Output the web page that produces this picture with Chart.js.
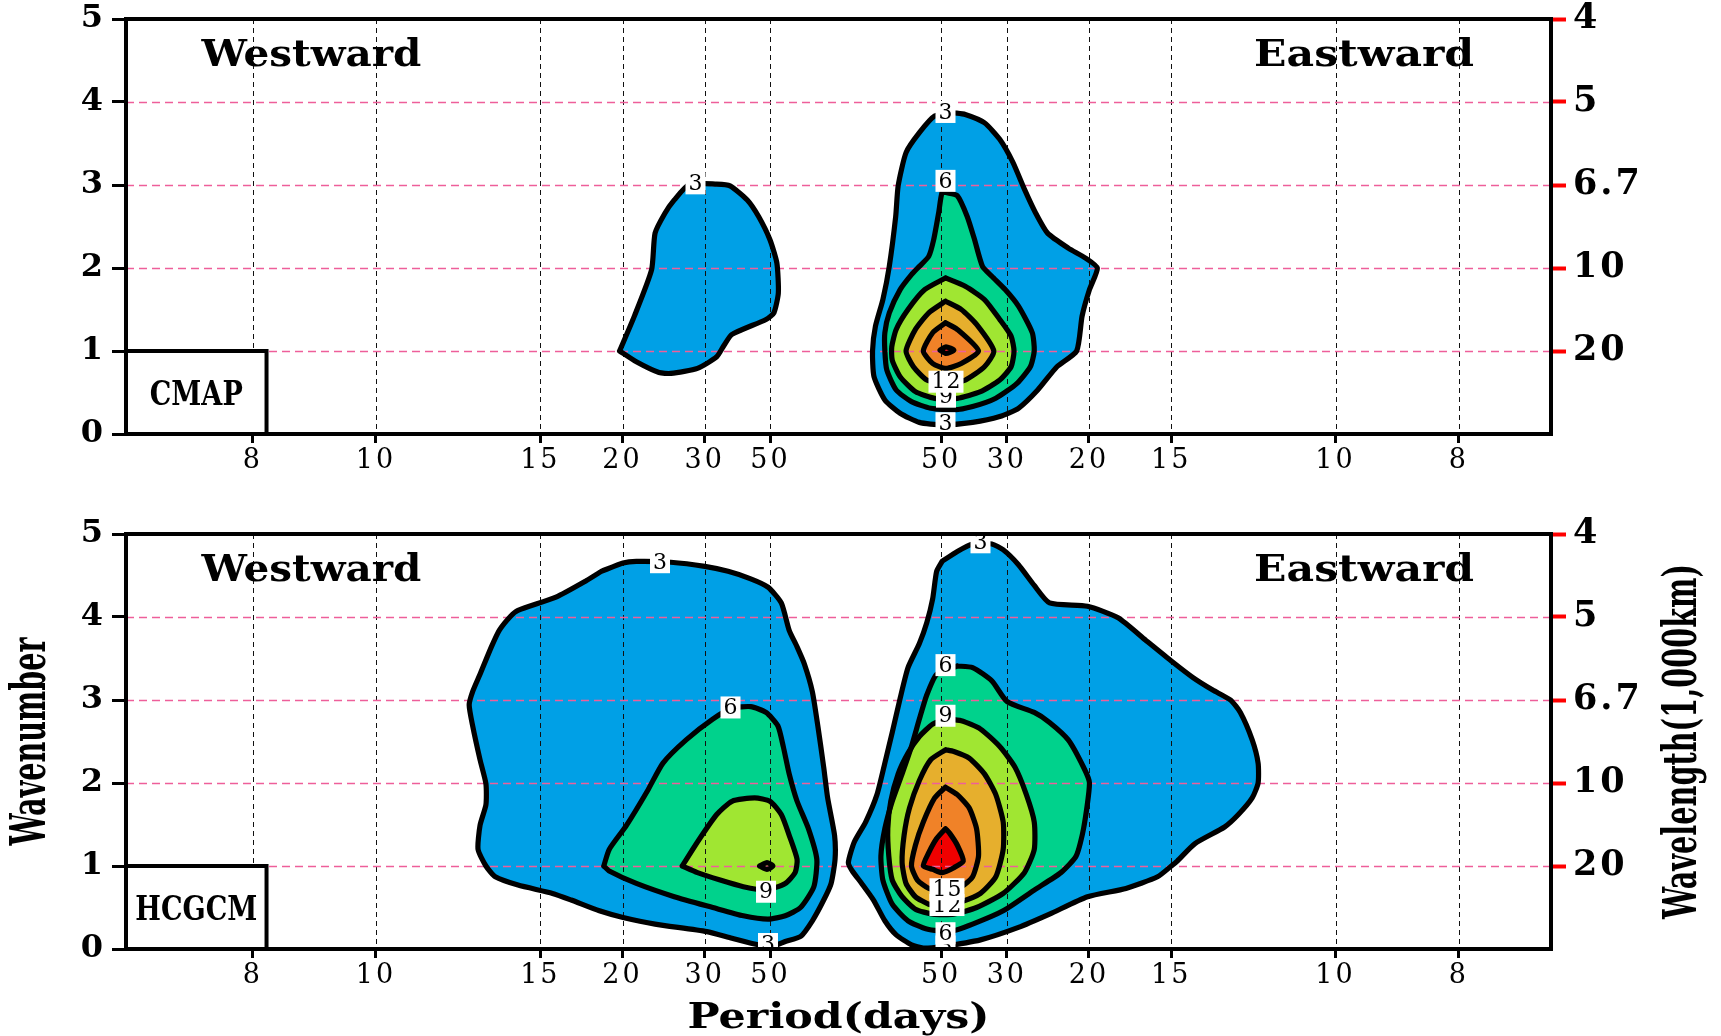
<!DOCTYPE html>
<html>
<head>
<meta charset="utf-8">
<title>Wavenumber-frequency spectra: CMAP vs HCGCM</title>
<script src="https://cdn.jsdelivr.net/npm/chart.js@4.4.1/dist/chart.umd.min.js"></script>
<style>
    html, body { margin: 0; padding: 0; background: #fff; }
    #wrap { position: relative; width: 1721px; height: 1036px; overflow: hidden; }
    canvas { position: absolute; left: 0; }
    #topPanel { top: 0; }
    #bottomPanel { top: 490px; }
</style>
</head>
<body>
<div id="wrap">
    <canvas id="topPanel" width="1721" height="490"></canvas>
    <canvas id="bottomPanel" width="1721" height="546"></canvas>
</div>
<script>
// ---- axes ----
// x is signed frequency (cycles/day), westward < 0; the plot folds out a small band around zero
const PERIODS_WEST = [8, 10, 15, 20, 30, 50];
const PERIODS_EAST = [50, 30, 20, 15, 10, 8];
const FREQ_GAP = 0.0027;
const FREQ_MIN = -0.148;
const FREQ_MAX = 0.141;
const WAVENUMBER_TICKS = [0, 1, 2, 3, 4, 5];
const WAVELENGTH_TICKS = [1, 2, 3, 4, 5];
const WAVELENGTH_LABELS = ['20', '10', '6.7', '5', '4'];
const GRID_WAVENUMBERS = [1, 2, 3, 4];

// ---- contour levels and shading ----
const CONTOUR_LEVELS = [3, 6, 9, 12, 15, 18];
const LEVEL_COLORS = ['#00a0e6', '#00d28c', '#a0e632', '#e6af2d', '#f08228', '#f00000'];

// ---- CMAP contours, [frequency, wavenumber] ----
const CMAP_W3 = [[-0.0479,1.00],[-0.0449,1.42],[-0.0414,1.98],[-0.0407,2.42],[-0.0387,2.66],[-0.0368,2.82],[-0.0337,3.01],[-0.0282,3.01],[-0.0255,2.99],[-0.0220,2.82],[-0.0197,2.62],[-0.0174,2.34],[-0.0160,2.06],[-0.0157,1.70],[-0.0166,1.46],[-0.0182,1.38],[-0.0251,1.20],[-0.0267,1.07],[-0.0282,0.93],[-0.0321,0.79],[-0.0375,0.73],[-0.0399,0.74],[-0.0445,0.87]];
const CMAP_E3 = [[0.0199,3.87],[0.0222,3.85],[0.0261,3.75],[0.0292,3.55],[0.0319,3.27],[0.0342,2.95],[0.0365,2.66],[0.0389,2.42],[0.0431,2.24],[0.0466,2.12],[0.0490,2.00],[0.0474,1.74],[0.0459,1.42],[0.0448,1.00],[0.0408,0.81],[0.0369,0.53],[0.0330,0.31],[0.0292,0.21],[0.0237,0.14],[0.0175,0.11],[0.0129,0.14],[0.0090,0.25],[0.0059,0.41],[0.0037,0.69],[0.0034,1.00],[0.0040,1.30],[0.0055,1.62],[0.0068,2.02],[0.0081,2.62],[0.0086,2.99],[0.0102,3.39],[0.0129,3.63],[0.0160,3.83]];
const CMAP_E6 = [[0.0183,2.91],[0.0206,2.87],[0.0226,2.62],[0.0241,2.34],[0.0257,2.02],[0.0276,1.90],[0.0303,1.74],[0.0330,1.54],[0.0358,1.22],[0.0362,1.00],[0.0354,0.81],[0.0327,0.61],[0.0284,0.43],[0.0237,0.33],[0.0199,0.29],[0.0152,0.31],[0.0113,0.39],[0.0082,0.53],[0.0063,0.77],[0.0059,1.00],[0.0059,1.22],[0.0068,1.46],[0.0090,1.74],[0.0113,1.92],[0.0129,2.02],[0.0148,2.14],[0.0158,2.34],[0.0168,2.66],[0.0175,2.91]];
const CMAP_E9 = [[0.0182,1.88],[0.0222,1.78],[0.0261,1.62],[0.0292,1.38],[0.0315,1.18],[0.0321,1.00],[0.0315,0.81],[0.0292,0.65],[0.0253,0.51],[0.0206,0.43],[0.0160,0.43],[0.0121,0.51],[0.0090,0.69],[0.0074,0.89],[0.0073,1.05],[0.0082,1.26],[0.0106,1.50],[0.0140,1.74]];
const CMAP_E12 = [[0.0182,1.60],[0.0214,1.50],[0.0245,1.32],[0.0280,1.00],[0.0261,0.81],[0.0222,0.65],[0.0183,0.61],[0.0144,0.65],[0.0117,0.81],[0.0102,1.00],[0.0121,1.26],[0.0148,1.46]];
const CMAP_E15 = [[0.0182,1.34],[0.0206,1.26],[0.0249,1.00],[0.0214,0.85],[0.0183,0.79],[0.0156,0.85],[0.0137,1.00],[0.0156,1.22]];
const CMAP_E18 = [[0.0171,1.01],[0.0183,1.05],[0.0199,1.01],[0.0183,0.97]];

// ---- HCGCM contours ----
const HCGCM_W3 = [[-0.0516,4.55],[-0.0546,4.44],[-0.0608,4.24],[-0.0685,4.08],[-0.0700,4.01],[-0.0723,3.84],[-0.0739,3.64],[-0.0762,3.31],[-0.0777,3.10],[-0.0784,2.94],[-0.0777,2.69],[-0.0762,2.28],[-0.0750,1.99],[-0.0750,1.74],[-0.0762,1.49],[-0.0766,1.20],[-0.0750,1.00],[-0.0731,0.87],[-0.0685,0.77],[-0.0615,0.67],[-0.0577,0.59],[-0.0520,0.46],[-0.0472,0.38],[-0.0407,0.30],[-0.0302,0.21],[-0.0251,0.13],[-0.0197,0.05],[-0.0166,0.04],[-0.0143,0.09],[-0.0112,0.15],[-0.0088,0.34],[-0.0065,0.59],[-0.0050,0.79],[-0.0042,1.08],[-0.0043,1.37],[-0.0057,1.82],[-0.0065,2.19],[-0.0077,2.69],[-0.0088,3.10],[-0.0104,3.43],[-0.0119,3.64],[-0.0135,3.84],[-0.0151,4.17],[-0.0178,4.36],[-0.0213,4.46],[-0.0259,4.55],[-0.0306,4.61],[-0.0375,4.66],[-0.0445,4.67],[-0.0472,4.65]];
const HCGCM_W6 = [[-0.0511,1.00],[-0.0500,1.20],[-0.0465,1.49],[-0.0422,1.91],[-0.0391,2.24],[-0.0344,2.52],[-0.0290,2.77],[-0.0251,2.90],[-0.0213,2.92],[-0.0182,2.85],[-0.0158,2.69],[-0.0147,2.44],[-0.0135,2.11],[-0.0119,1.78],[-0.0096,1.45],[-0.0079,1.08],[-0.0085,0.75],[-0.0112,0.50],[-0.0143,0.40],[-0.0178,0.36],[-0.0228,0.40],[-0.0290,0.50],[-0.0368,0.63],[-0.0445,0.79],[-0.0500,0.94]];
const HCGCM_W9 = [[-0.0352,1.00],[-0.0321,1.29],[-0.0282,1.62],[-0.0251,1.78],[-0.0205,1.82],[-0.0174,1.78],[-0.0151,1.62],[-0.0135,1.37],[-0.0119,1.08],[-0.0123,0.92],[-0.0143,0.79],[-0.0182,0.71],[-0.0228,0.75],[-0.0275,0.83],[-0.0321,0.92]];
const HCGCM_W12 = [[-0.0195,1.00],[-0.0180,1.04],[-0.0168,1.00],[-0.0180,0.96]];
const HCGCM_E3 = [[0.0175,4.67],[0.0206,4.79],[0.0237,4.88],[0.0276,4.88],[0.0299,4.81],[0.0330,4.63],[0.0362,4.38],[0.0393,4.17],[0.0470,4.13],[0.0532,3.99],[0.0588,3.72],[0.0640,3.47],[0.0684,3.27],[0.0724,3.12],[0.0760,3.00],[0.0780,2.85],[0.0804,2.52],[0.0816,2.24],[0.0816,2.00],[0.0804,1.82],[0.0776,1.62],[0.0748,1.47],[0.0688,1.27],[0.0652,1.06],[0.0640,1.00],[0.0612,0.87],[0.0548,0.73],[0.0470,0.63],[0.0393,0.42],[0.0330,0.26],[0.0253,0.11],[0.0175,0.03],[0.0137,0.01],[0.0113,0.05],[0.0082,0.17],[0.0059,0.34],[0.0036,0.59],[0.0012,0.79],[-0.0007,0.94],[-0.0015,1.04],[-0.0003,1.29],[0.0020,1.53],[0.0043,1.86],[0.0059,2.24],[0.0074,2.61],[0.0090,3.02],[0.0106,3.39],[0.0129,3.68],[0.0144,3.93],[0.0156,4.22],[0.0164,4.55]];
const HCGCM_E6 = [[0.0206,3.41],[0.0237,3.39],[0.0276,3.23],[0.0307,2.98],[0.0362,2.85],[0.0393,2.73],[0.0431,2.52],[0.0462,2.19],[0.0474,2.00],[0.0462,1.45],[0.0447,1.12],[0.0416,0.92],[0.0362,0.71],[0.0299,0.46],[0.0237,0.30],[0.0191,0.21],[0.0144,0.24],[0.0106,0.34],[0.0074,0.54],[0.0055,0.83],[0.0051,1.12],[0.0059,1.45],[0.0074,1.78],[0.0094,2.11],[0.0113,2.44],[0.0129,2.77],[0.0144,3.06],[0.0164,3.31]];
const HCGCM_E9 = [[0.0182,2.77],[0.0214,2.75],[0.0253,2.65],[0.0292,2.44],[0.0323,2.19],[0.0346,1.86],[0.0362,1.53],[0.0362,1.20],[0.0342,0.92],[0.0299,0.67],[0.0245,0.50],[0.0199,0.42],[0.0156,0.42],[0.0121,0.48],[0.0094,0.63],[0.0074,0.83],[0.0067,1.12],[0.0065,1.45],[0.0071,1.78],[0.0086,2.11],[0.0106,2.36],[0.0129,2.56],[0.0156,2.71]];
const HCGCM_E12 = [[0.0182,2.40],[0.0199,2.38],[0.0230,2.30],[0.0261,2.11],[0.0284,1.86],[0.0299,1.53],[0.0299,1.20],[0.0284,0.87],[0.0253,0.67],[0.0214,0.57],[0.0175,0.52],[0.0148,0.54],[0.0121,0.63],[0.0102,0.79],[0.0094,1.04],[0.0098,1.37],[0.0109,1.70],[0.0129,2.03],[0.0152,2.28]];
const HCGCM_E15 = [[0.0182,1.95],[0.0206,1.86],[0.0230,1.70],[0.0245,1.45],[0.0249,1.12],[0.0237,0.87],[0.0214,0.75],[0.0179,0.71],[0.0148,0.73],[0.0125,0.83],[0.0113,1.00],[0.0121,1.25],[0.0137,1.53],[0.0160,1.82]];
const HCGCM_E18 = [[0.0182,1.45],[0.0191,1.39],[0.0206,1.25],[0.0218,1.06],[0.0199,0.98],[0.0175,0.92],[0.0156,0.96],[0.0137,1.00],[0.0148,1.16],[0.0164,1.33]];

// ---- contour labels, [frequency, wavenumber] and text ----
const CMAP_LABEL_POS = [[-0.0325,3.02],[0.0182,3.88],[0.0182,0.13],[0.0182,3.05],[0.0183,0.45],[0.0183,0.63]];
const CMAP_LABEL_TEXT = ['3', '3', '3', '6', '9', '12'];
const HCGCM_LABEL_POS = [[-0.0397,4.66],[-0.0178,0.06],[0.0253,4.90],[0.0182,0.03],[-0.0254,2.91],[0.0182,3.42],[0.0182,0.19],[-0.0182,0.69],[0.0182,2.81],[0.0185,0.53],[0.0185,0.72]];
const HCGCM_LABEL_TEXT = ['3', '3', '3', '3', '6', '6', '6', '9', '9', '12', '15'];

// panel text anchors
const HEAD_WEST_FREQ = -0.1104;
const HEAD_EAST_FREQ = 0.1031;
const NAME_BOX_FREQ = -0.1195;
const NAME_BOX_TOP = 1;

const X_TICK_VALUES = PERIODS_WEST.map(p => -(1 / p - FREQ_GAP)).concat(PERIODS_EAST.map(p => 1 / p - FREQ_GAP));
const X_TICK_LABELS = PERIODS_WEST.concat(PERIODS_EAST).map(String);

function closeRing(ring) {
    const pts = ring.map(p => ({ x: p[0], y: p[1] }));
    pts.push({ x: ring[0][0], y: ring[0][1] });
    return pts;
}

// shaded polygons first, then the grid, then the black contour lines on top
function contourDatasets(contours) {
    const fills = contours.map(c => ({
        data: closeRing(c[1]),
        fill: 'shape',
        backgroundColor: LEVEL_COLORS[CONTOUR_LEVELS.indexOf(c[0])],
        borderColor: 'rgba(0,0,0,0)',
        borderWidth: 0
    }));
    fills[fills.length - 1].gridAfter = true;
    const lines = contours.map(c => ({
        data: closeRing(c[1]),
        fill: false,
        borderColor: '#000',
        borderWidth: 5.2
    }));
    const all = fills.concat(lines);
    all.forEach((d, i) => { d.order = all.length - i; });
    return all;
}

function fitText(ctx, text, x, y, size, width, rot) {
    ctx.save();
    ctx.letterSpacing = '0px';
    ctx.translate(x, y);
    if (rot) ctx.rotate(rot);
    ctx.font = 'bold ' + size + 'px "DejaVu Serif"';
    const w = ctx.measureText(text).width;
    ctx.scale(width / w, 1);
    ctx.textAlign = 'center';
    ctx.textBaseline = 'middle';
    ctx.fillStyle = '#000';
    ctx.fillText(text, 0, 0);
    ctx.restore();
}

function drawGrid(chart) {
    const ctx = chart.ctx, a = chart.chartArea, x = chart.scales.x, y = chart.scales.y;
    ctx.save();
    ctx.beginPath();
    ctx.rect(a.left, a.top, a.width, a.height);
    ctx.clip();
    ctx.lineWidth = 1;
    ctx.strokeStyle = '#111';
    ctx.setLineDash([5, 4]);
    X_TICK_VALUES.forEach(v => {
        const px = Math.round(x.getPixelForValue(v)) + 0.5;
        ctx.beginPath(); ctx.moveTo(px, a.top); ctx.lineTo(px, a.bottom); ctx.stroke();
    });
    ctx.strokeStyle = '#ee5f9a';
    ctx.lineWidth = 1.3;
    ctx.setLineDash([8, 5]);
    GRID_WAVENUMBERS.forEach(k => {
        const py = Math.round(y.getPixelForValue(k)) + 0.5;
        ctx.beginPath(); ctx.moveTo(a.left, py); ctx.lineTo(a.right, py); ctx.stroke();
    });
    ctx.restore();
}

function panelDecor(panel) {
    return {
        id: 'panelDecor',
        beforeDraw(chart) { chart.ctx.letterSpacing = '3px'; },
        afterDatasetDraw(chart, args) {
            if (chart.data.datasets[args.index].gridAfter) drawGrid(chart);
        },
        afterDraw(chart) {
            const ctx = chart.ctx, a = chart.chartArea, x = chart.scales.x, y = chart.scales.y;
            ctx.save();
            // contour labels in white boxes
            ctx.beginPath();
            ctx.rect(a.left, a.top, a.width, a.height);
            ctx.clip();
            ctx.letterSpacing = '1px';
            ctx.font = '22px "DejaVu Serif"';
            ctx.textAlign = 'center';
            ctx.textBaseline = 'middle';
            panel.labelPos.forEach((p, i) => {
                const px = x.getPixelForValue(p[0]), py = y.getPixelForValue(p[1]);
                const t = panel.labelText[i];
                const w = ctx.measureText(t).width + 5;
                ctx.fillStyle = '#fff';
                ctx.fillRect(px - w / 2, py - 11, w, 22);
                ctx.fillStyle = '#000';
                ctx.fillText(t, px + 0.5, py + 1);
            });
            ctx.restore();

            // data-set name box
            const bx = x.getPixelForValue(NAME_BOX_FREQ), by = y.getPixelForValue(NAME_BOX_TOP);
            ctx.save();
            ctx.fillStyle = '#fff';
            ctx.fillRect(a.left, by, bx - a.left, a.bottom - by);
            ctx.lineWidth = 4;
            ctx.strokeStyle = '#000';
            ctx.strokeRect(a.left, by, bx - a.left, a.bottom - by);
            ctx.restore();
            fitText(ctx, panel.name, (a.left + bx) / 2, y.getPixelForValue(0.45), 33, panel.nameWidth);

            fitText(ctx, 'Westward', x.getPixelForValue(HEAD_WEST_FREQ), y.getPixelForValue(panel.headK), 38, 220);
            fitText(ctx, 'Eastward', x.getPixelForValue(HEAD_EAST_FREQ), y.getPixelForValue(panel.headK), 38, 220);

            // frame
            ctx.save();
            ctx.lineWidth = 4;
            ctx.strokeStyle = '#000';
            ctx.strokeRect(a.left, a.top, a.width, a.height);
            ctx.restore();

            if (panel.titles) {
                const mid = (a.top + a.bottom) / 2;
                fitText(ctx, 'Wavenumber', 33, mid, 48, 208, -Math.PI / 2);
                fitText(ctx, 'Wavelength(1,000km)', 1684, mid, 46, 355, -Math.PI / 2);
                fitText(ctx, 'Period(days)', (a.left + a.right) / 2, chart.height - 17, 36, 302);
            }
        }
    };
}

// fixed axis sizes so both panels share the same plot box
function fixVertical(width) {
    return s => { s.width = width; s.paddingTop = 0; s.paddingBottom = 0; };
}

function buildPanel(canvasId, contours, panel) {
    return new Chart(document.getElementById(canvasId), {
        type: 'line',
        data: { datasets: contourDatasets(contours) },
        options: {
            responsive: false,
            animation: false,
            events: [],
            layout: { padding: { top: panel.padTop, left: 0, right: 0, bottom: 0 } },
            elements: {
                point: { radius: 0 },
                line: { tension: 0.2, borderJoinStyle: 'round', borderCapStyle: 'round' }
            },
            plugins: { legend: { display: false }, tooltip: { enabled: false } },
            scales: {
                x: {
                    type: 'linear',
                    min: FREQ_MIN,
                    max: FREQ_MAX,
                    afterBuildTicks: s => { s.ticks = X_TICK_VALUES.map(v => ({ value: v })); },
                    afterFit: s => { s.height = panel.xHeight; s.paddingLeft = 0; s.paddingRight = 0; },
                    ticks: {
                        autoSkip: false, maxRotation: 0, minRotation: 0, padding: 4, color: '#000',
                        font: { family: 'DejaVu Serif', size: 27, lineHeight: 1 },
                        callback: (v, i) => X_TICK_LABELS[i]
                    },
                    grid: { drawOnChartArea: false, tickLength: 9, tickWidth: 3, tickColor: '#000' },
                    border: { display: false }
                },
                y: {
                    position: 'left',
                    min: 0,
                    max: 5,
                    afterBuildTicks: s => { s.ticks = WAVENUMBER_TICKS.map(v => ({ value: v })); },
                    afterFit: fixVertical(126),
                    ticks: { padding: 6, color: '#000', font: { family: 'DejaVu Serif', size: 32, weight: 'bold', lineHeight: 1 } },
                    grid: { drawOnChartArea: false, tickLength: 14, tickWidth: 3, tickColor: '#000' },
                    border: { display: false }
                },
                y2: {
                    position: 'right',
                    min: 0,
                    max: 5,
                    afterBuildTicks: s => { s.ticks = WAVELENGTH_TICKS.map(v => ({ value: v })); },
                    afterFit: fixVertical(170),
                    ticks: {
                        padding: 7, color: '#000', font: { family: 'DejaVu Serif', size: 35, weight: 'bold', lineHeight: 1 },
                        callback: (v, i) => WAVELENGTH_LABELS[i]
                    },
                    grid: { drawOnChartArea: false, tickLength: 15, tickWidth: 4, tickColor: '#ff0000' },
                    border: { display: false }
                }
            }
        },
        plugins: [panelDecor(panel)]
    });
}

buildPanel('topPanel',
    [[3, CMAP_W3], [3, CMAP_E3], [6, CMAP_E6], [9, CMAP_E9], [12, CMAP_E12], [15, CMAP_E15], [18, CMAP_E18]],
    { padTop: 19, xHeight: 56, name: 'CMAP', nameWidth: 93, headK: 4.55,
      labelPos: CMAP_LABEL_POS, labelText: CMAP_LABEL_TEXT, titles: false });

buildPanel('bottomPanel',
    [[3, HCGCM_W3], [6, HCGCM_W6], [9, HCGCM_W9], [12, HCGCM_W12],
     [3, HCGCM_E3], [6, HCGCM_E6], [9, HCGCM_E9], [12, HCGCM_E12], [15, HCGCM_E15], [18, HCGCM_E18]],
    { padTop: 44, xHeight: 87, name: 'HCGCM', nameWidth: 122, headK: 4.55,
      labelPos: HCGCM_LABEL_POS, labelText: HCGCM_LABEL_TEXT, titles: true });
</script>
</body>
</html>
